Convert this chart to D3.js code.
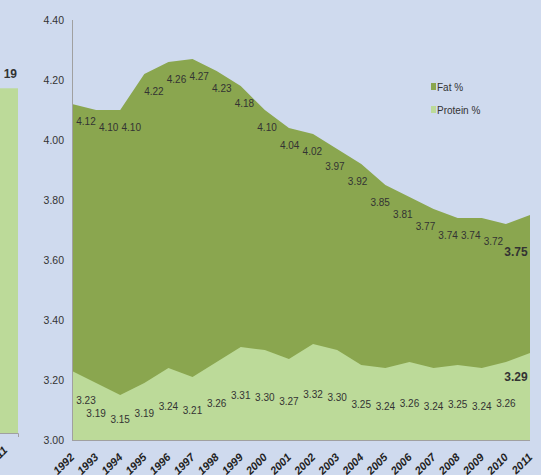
<!DOCTYPE html>
<html>
<head>
<meta charset="utf-8">
<script src="https://cdn.jsdelivr.net/npm/d3@7"></script>
<style>
  body { margin: 0; background: #cfdaee; }
  svg { display: block; font-family: "Liberation Sans", Arial, sans-serif; }
</style>
</head>
<body>
<div class="canvas"></div>
<script>
const years = d3.range(1992, 2012);
const fat = [4.12, 4.10, 4.10, 4.22, 4.26, 4.27, 4.23, 4.18, 4.10, 4.04,
             4.02, 3.97, 3.92, 3.85, 3.81, 3.77, 3.74, 3.74, 3.72, 3.75];
const protein = [3.23, 3.19, 3.15, 3.19, 3.24, 3.21, 3.26, 3.31, 3.30, 3.27,
                 3.32, 3.30, 3.25, 3.24, 3.26, 3.24, 3.25, 3.24, 3.26, 3.29];
const yTicks = [3.00, 3.20, 3.40, 3.60, 3.80, 4.00, 4.20, 4.40];
const seriesNames = ['Fat %', 'Protein %'];

// the neighbouring chart that is cut off on the left
const leftCategories = ['2011'];
const leftValues = [4.19];

const dims = { width: 541, height: 475 };
const plot = { left: 72, right: 530, top: 20, bottom: 440 };
const colour = { fat: '#8aa64f', protein: '#bcda99', axis: '#a0a0a0', text: '#333333' };

const svg = d3.select('.canvas')
    .append('svg')
    .attr('width', dims.width)
    .attr('height', dims.height)
;

const x = d3.scaleLinear().domain([1992, 2011]).range([plot.left, plot.right]);
const y = d3.scaleLinear().domain([3.0, 4.4]).range([plot.bottom, plot.top]);

// left, cropped chart
const leftY = d3.scaleLinear().domain([0, 4.4]).range([433, 71]);
svg.selectAll('rect.left')
    .data(leftValues)
    .enter()
    .append('rect')
    .attr('class', 'left')
    .attr('x', -30)
    .attr('width', 48)
    .attr('y', d => leftY(d))
    .attr('height', d => leftY(0) - leftY(d))
    .attr('fill', colour.protein)
;
svg.append('path')
    .attr('d', `M0,${leftY(0) + 0.5}H18.5V${leftY(0) + 4}`)
    .attr('fill', 'none')
    .attr('stroke', colour.axis)
;
// only the tail of this label is inside the picture
svg.selectAll('text.leftval')
    .data(leftValues)
    .enter()
    .append('text')
    .attr('x', 17)
    .attr('y', d => leftY(d) - 10)
    .attr('text-anchor', 'end')
    .attr('font-size', 12)
    .attr('font-weight', 'bold')
    .attr('fill', colour.text)
    .text(d => d.toFixed(2).slice(-2))
;
svg.selectAll('text.leftcat')
    .data(leftCategories)
    .enter()
    .append('text')
    .attr('transform', `translate(8, 451) rotate(-45)`)
    .attr('text-anchor', 'end')
    .attr('font-size', 11)
    .attr('font-weight', 'bold')
    .attr('font-style', 'italic')
    .attr('fill', '#222')
    .text(d => d)
;

// areas (overlapping, both from the 3.00 baseline)
const area = values => d3.area()
    .x((d, i) => x(years[i]))
    .y0(y(3.0))
    .y1(d => y(d))(values);

svg.append('path').attr('d', area(fat)).attr('fill', colour.fat);
svg.append('path').attr('d', area(protein)).attr('fill', colour.protein);

// axes
svg.append('line')
    .attr('x1', plot.left + 0.5).attr('x2', plot.left + 0.5)
    .attr('y1', plot.top).attr('y2', plot.bottom)
    .attr('stroke', colour.axis)
;
svg.append('line')
    .attr('x1', plot.left).attr('x2', plot.right)
    .attr('y1', plot.bottom + 0.5).attr('y2', plot.bottom + 0.5)
    .attr('stroke', colour.axis)
;

svg.selectAll('text.ytick')
    .data(yTicks)
    .enter()
    .append('text')
    .attr('x', plot.left - 8)
    .attr('y', d => y(d))
    .attr('dy', '0.35em')
    .attr('text-anchor', 'end')
    .attr('font-size', 10.5)
    .attr('fill', colour.text)
    .text(d => d.toFixed(2))
;

svg.selectAll('text.xtick')
    .data(years)
    .enter()
    .append('text')
    .attr('transform', d => `translate(${x(d) + 3}, 458) rotate(-45)`)
    .attr('text-anchor', 'end')
    .attr('font-size', 11)
    .attr('font-weight', 'bold')
    .attr('font-style', 'italic')
    .attr('fill', '#222')
    .text(d => d)
;

// data labels
const last = years.length - 1;
const fatLabelX = d3.scaleLinear()
    .domain([1992, 2011])
    .range([x(1992) + 14, x(2011) - 14]);
const protLabelX = yr => Math.max(plot.left + 14, Math.min(plot.right - 14, x(yr)));
const protLabelY = (d, i) => {
    if (i === 0) return y(d) + 29;
    if (i === last) return y(d) + 24;
    return (y(d) + y(3.0)) / 2 + 2;
};

svg.selectAll('text.fatlab')
    .data(fat)
    .enter()
    .append('text')
    .attr('x', (d, i) => fatLabelX(years[i]))
    .attr('y', (d, i) => y(d) + (i === last ? 37 : 17))
    .attr('dy', '0.35em')
    .attr('text-anchor', 'middle')
    .attr('font-size', (d, i) => i === last ? 12 : 10)
    .attr('font-weight', (d, i) => i === last ? 'bold' : 'normal')
    .attr('fill', colour.text)
    .text(d => d.toFixed(2))
;

svg.selectAll('text.protlab')
    .data(protein)
    .enter()
    .append('text')
    .attr('x', (d, i) => protLabelX(years[i]))
    .attr('y', protLabelY)
    .attr('dy', '0.35em')
    .attr('text-anchor', 'middle')
    .attr('font-size', (d, i) => i === last ? 12 : 10)
    .attr('font-weight', (d, i) => i === last ? 'bold' : 'normal')
    .attr('fill', colour.text)
    .text(d => d.toFixed(2))
;

// legend
const legend = svg.selectAll('g.legend')
    .data(seriesNames)
    .enter()
    .append('g')
    .attr('transform', (d, i) => `translate(431, ${83 + i * 23})`)
;
legend.append('rect')
    .attr('width', 5)
    .attr('height', 7)
    .attr('fill', (d, i) => i === 0 ? colour.fat : colour.protein)
;
legend.append('text')
    .attr('x', 6)
    .attr('y', 4)
    .attr('dy', '0.35em')
    .attr('font-size', 10)
    .attr('fill', colour.text)
    .text(d => d)
;
</script>
</body>
</html>
